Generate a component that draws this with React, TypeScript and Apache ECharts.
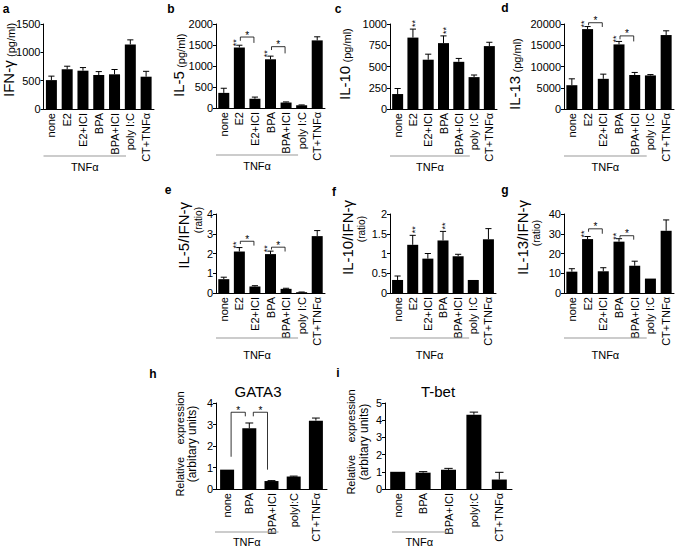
import React, { useEffect, useRef } from 'react';
import * as echarts from 'echarts';

// ---------- data ----------
const catsTop = ['none', 'E2', 'E2+ICI', 'BPA', 'BPA+ICI', 'poly I:C', 'CT+TNFα'];
const catsBottom = ['none', 'BPA', 'BPA+ICI', 'polyI:C', 'CT+TNFα'];

const ifnG = [510, 700, 676, 600, 612, 1140, 570];
const ifnGErr = [70, 55, 55, 60, 85, 80, 95];

const il5 = [360, 1440, 220, 1160, 130, 65, 1610];
const il5Err = [110, 55, 40, 75, 15, 8, 85];
const il5Brackets = [[1, 2, 1690, 1600, 1550], [3, 4, 1460, 1380, 1300]];

const il10 = [176, 840, 580, 775, 555, 375, 740];
const il10Err = [65, 100, 65, 85, 40, 25, 45];

const il13 = [5600, 18800, 7100, 15200, 8000, 7900, 17400];
const il13Err = [1500, 600, 1100, 700, 600, 200, 1000];
const il13Brackets = [[1, 2, 20300, 19700, 19300], [3, 4, 17200, 16400, 15900]];

const il5Ratio = [0.7, 2.1, 0.33, 1.97, 0.21, 0.04, 2.88];
const il5RatioErr = [0.1, 0.2, 0.04, 0.15, 0.03, 0.01, 0.28];
const il5RatioBrackets = [[1, 2, 2.62, 2.48, 2.4], [3, 4, 2.32, 2.2, 2.1]];

const il10Ratio = [0.33, 1.22, 0.87, 1.33, 0.93, 0.33, 1.36];
const il10RatioErr = [0.1, 0.24, 0.13, 0.23, 0.05, 0, 0.27];

const il13Ratio = [10.8, 27.3, 11, 26, 13.8, 7.3, 31.5];
const il13RatioErr = [1.5, 1.3, 1.8, 1.5, 2.3, 0, 5.5];
const il13RatioBrackets = [[1, 2, 32.5, 31, 30], [3, 4, 29, 28, 27]];

const gata3 = [0.9, 2.82, 0.37, 0.58, 3.18];
const gata3Err = [0, 0.25, 0.02, 0.02, 0.12];
const gata3Brackets = [[0, 1, 3.57, 1.5, 3.38], [1, 2, 3.57, 3.38, 0.9]];

const tbet = [1.0, 0.95, 1.12, 4.32, 0.55];
const tbetErr = [0, 0.06, 0.08, 0.15, 0.42];

const starCatsTop = [1, 3];

// ---------- style ----------
const NARROW = "'Liberation Sans Narrow', 'Arial Narrow', 'Liberation Sans', Arial, sans-serif";
const SANS = "'Liberation Sans', Arial, Helvetica, sans-serif";
const INK = '#000';

type Panel = {
  cats: string[]; values: number[]; errs: number[];
  max: number; interval: number;
  left: number; top: number; width: number; height: number;
  barWidth: number; stars: number[]; starMode: 'left' | 'top';
  brackets: number[][]; bracketInset: number;
  tnfTo: number; tnfLine: number; tnfText: number; tnfPadL: number; tnfPadR: number;
};

const panels: Panel[] = [
  // a
  { cats: catsTop, values: ifnG, errs: ifnGErr, max: 1500, interval: 500, left: 43.5, top: 24, width: 110.5, height: 85, barWidth: 11, stars: [], starMode: 'left', brackets: [], bracketInset: 0, tnfTo: 4, tnfLine: 47, tnfText: 58, tnfPadL: 0, tnfPadR: 11.5 },
  // b
  { cats: catsTop, values: il5, errs: il5Err, max: 2000, interval: 500, left: 216, top: 24, width: 109, height: 84, barWidth: 11, stars: starCatsTop, starMode: 'left', brackets: il5Brackets, bracketInset: 1, tnfTo: 4, tnfLine: 47, tnfText: 58, tnfPadL: 0, tnfPadR: 12 },
  // c
  { cats: catsTop, values: il10, errs: il10Err, max: 1000, interval: 250, left: 390, top: 24, width: 107, height: 85, barWidth: 11, stars: starCatsTop, starMode: 'top', brackets: [], bracketInset: 0, tnfTo: 4, tnfLine: 47, tnfText: 58, tnfPadL: 0, tnfPadR: 11 },
  // d
  { cats: catsTop, values: il13, errs: il13Err, max: 20000, interval: 5000, left: 564, top: 24, width: 110, height: 85, barWidth: 11, stars: starCatsTop, starMode: 'left', brackets: il13Brackets, bracketInset: 1, tnfTo: 4, tnfLine: 47, tnfText: 58, tnfPadL: 0, tnfPadR: 12 },
  // e
  { cats: catsTop, values: il5Ratio, errs: il5RatioErr, max: 4, interval: 1, left: 216, top: 214, width: 109, height: 79, barWidth: 11, stars: starCatsTop, starMode: 'left', brackets: il5RatioBrackets, bracketInset: 1, tnfTo: 4, tnfLine: 45, tnfText: 62, tnfPadL: 0, tnfPadR: 12 },
  // f
  { cats: catsTop, values: il10Ratio, errs: il10RatioErr, max: 2, interval: 0.5, left: 390, top: 214, width: 106, height: 79, barWidth: 11, stars: starCatsTop, starMode: 'top', brackets: [], bracketInset: 0, tnfTo: 4, tnfLine: 45, tnfText: 62, tnfPadL: 0, tnfPadR: 11 },
  // g
  { cats: catsTop, values: il13Ratio, errs: il13RatioErr, max: 40, interval: 10, left: 564, top: 214, width: 110, height: 79, barWidth: 11, stars: starCatsTop, starMode: 'left', brackets: il13RatioBrackets, bracketInset: 1, tnfTo: 4, tnfLine: 45, tnfText: 62, tnfPadL: 0, tnfPadR: 12 },
  // h
  { cats: catsBottom, values: gata3, errs: gata3Err, max: 4, interval: 1, left: 216, top: 403, width: 111, height: 86, barWidth: 14, stars: [], starMode: 'top', brackets: gata3Brackets, bracketInset: 4, tnfTo: 2, tnfLine: 43, tnfText: 53, tnfPadL: -1, tnfPadR: 7 },
  // i
  { cats: catsBottom, values: tbet, errs: tbetErr, max: 5, interval: 1, left: 385, top: 403, width: 127, height: 86, barWidth: 15, stars: [], starMode: 'top', brackets: [], bracketInset: 0, tnfTo: 2, tnfLine: 43, tnfText: 53, tnfPadL: 7, tnfPadR: -2 },
];

function buildOption() {
  const grid: any[] = [];
  const xAxis: any[] = [];
  const yAxis: any[] = [];
  const series: any[] = [];

  panels.forEach((p, k) => {
    grid.push({ left: p.left, top: p.top, width: p.width, height: p.height, containLabel: false });
    xAxis.push({
      type: 'category', gridIndex: k, data: p.cats,
      axisLine: { show: true, lineStyle: { color: INK, width: 1 } },
      axisTick: { show: false },
      axisLabel: { rotate: 90, interval: 0, fontSize: 11, margin: 4, color: INK, fontFamily: NARROW },
      splitLine: { show: false },
    });
    yAxis.push({
      type: 'value', gridIndex: k, min: 0, max: p.max, interval: p.interval,
      axisLine: { show: true, lineStyle: { color: INK, width: 1 } },
      axisTick: { show: true, length: 3, lineStyle: { color: INK } },
      axisLabel: { fontSize: 11, margin: 3, color: INK, fontFamily: NARROW, formatter: (v: number) => String(v) },
      splitLine: { show: false },
    });
    series.push({
      type: 'bar', xAxisIndex: k, yAxisIndex: k, data: p.values, barWidth: p.barWidth,
      itemStyle: { color: INK }, silent: true,
    });
    const bw = p.barWidth;
    series.push({
      type: 'custom', xAxisIndex: k, yAxisIndex: k, z: 3, silent: true, itemStyle: { color: INK },
      data: p.values.map((v, i) => [i, v, p.errs[i]]),
      renderItem: (_params: any, api: any) => {
        const i = api.value(0); const v = api.value(1); const e = api.value(2);
        if (!e) return null;
        const p0 = api.coord([i, v]);
        const p1 = api.coord([i, v + e]);
        const cap = bw * 0.28;
        return {
          type: 'group', children: [
            { type: 'line', shape: { x1: p0[0], y1: p0[1], x2: p1[0], y2: p1[1] }, style: { stroke: INK, lineWidth: 1, fill: 'none' } },
            { type: 'line', shape: { x1: p1[0] - cap, y1: p1[1], x2: p1[0] + cap, y2: p1[1] }, style: { stroke: INK, lineWidth: 1, fill: 'none' } },
          ],
        };
      },
    });
    if (p.stars.length) {
      series.push({
        type: 'custom', xAxisIndex: k, yAxisIndex: k, z: 4, silent: true, itemStyle: { color: INK },
        data: p.stars.map((i) => [i, p.values[i] + p.errs[i]]),
        renderItem: (_params: any, api: any) => {
          const pt = api.coord([api.value(0), api.value(1)]);
          const x = p.starMode === 'left' ? pt[0] - bw / 2 + 2 : pt[0] + 2;
          const y = p.starMode === 'left' ? pt[1] + 1 : pt[1] - 2;
          return {
            type: 'text', x, y, rotation: Math.PI / 2,
            style: { text: '**', fontSize: 9, fontFamily: SANS, fill: INK, align: 'left', verticalAlign: 'middle' },
          };
        },
      });
    }
    if (p.brackets.length) {
      const inset = p.bracketInset;
      series.push({
        type: 'custom', xAxisIndex: k, yAxisIndex: k, z: 4, silent: true, itemStyle: { color: INK },
        data: p.brackets,
        renderItem: (_params: any, api: any) => {
          const a = api.coord([api.value(0), api.value(2)]);
          const b = api.coord([api.value(1), api.value(2)]);
          const la = api.coord([api.value(0), api.value(3)]);
          const rb = api.coord([api.value(1), api.value(4)]);
          const x1 = a[0] + inset; const x2 = b[0] - inset;
          return {
            type: 'group', children: [
              { type: 'polyline', shape: { points: [[x1, la[1]], [x1, a[1]], [x2, a[1]], [x2, rb[1]]] }, style: { stroke: INK, lineWidth: 0.8, fill: 'none' } },
              { type: 'text', x: (x1 + x2) / 2, y: a[1] - 2, style: { text: '*', fontSize: 10, fontFamily: SANS, fill: INK, align: 'center', verticalAlign: 'middle' } },
            ],
          };
        },
      });
    }
    series.push({
      type: 'custom', xAxisIndex: k, yAxisIndex: k, z: 2, silent: true, itemStyle: { color: INK },
      data: [[0, p.tnfTo]],
      renderItem: (_params: any, api: any) => {
        const s = api.coord([0, 0]);
        const e = api.coord([api.value(1), 0]);
        const band = api.size([1, 0])[0];
        const x1 = s[0] - band / 2 + p.tnfPadL;
        const x2 = e[0] + p.tnfPadR;
        const yl = s[1] + p.tnfLine;
        return {
          type: 'group', children: [
            { type: 'line', shape: { x1, y1: yl, x2, y2: yl }, style: { stroke: '#9a9a9a', lineWidth: 1.2, fill: 'none' } },
            { type: 'text', x: (x1 + x2) / 2, y: s[1] + p.tnfText, style: { text: 'TNFα', fontSize: 11, fontFamily: NARROW, fill: INK, align: 'center', verticalAlign: 'middle' } },
          ],
        };
      },
    });
  });

  const letters = [
    ['a', 6, 9], ['b', 171, 9], ['c', 338, 9], ['d', 505, 8],
    ['e', 168, 190], ['f', 334, 192], ['g', 505, 190], ['h', 153, 374], ['i', 338, 373],
  ];
  const graphic: any[] = letters.map(([t, x, y]) => ({
    type: 'text', x, y,
    style: { text: t, fontSize: 12, fontWeight: 'bold', fontFamily: SANS, fill: INK, align: 'center', verticalAlign: 'middle' },
  }));

  const rich = {
    b: { fontSize: 15, fontFamily: SANS, fill: INK, verticalAlign: 'bottom' },
    s: { fontSize: 11, fontFamily: SANS, fill: INK, verticalAlign: 'bottom' },
  };
  const topTitles: [string, number, number][] = [
    ['IFN-γ', 16, 97], ['IL-5', 186, 97], ['IL-10', 352, 100], ['IL-13', 522, 110],
  ];
  topTitles.forEach(([t, x, y]) => {
    graphic.push({
      type: 'text', x, y, rotation: Math.PI / 2,
      style: { text: `{b|${t}} {s|(pg/ml)}`, rich, align: 'left', verticalAlign: 'bottom', fill: INK },
    });
  });

  const midTitles: [string, number, number, number, number][] = [
    ['IL-5/IFN-γ', 191, 202, 203, 207],
    ['IL-10/IFN-γ', 355, 200, 366, 216],
    ['IL-13/IFN-γ', 530, 200, 541, 220],
  ];
  midTitles.forEach(([t, x, y, rx, ry]) => {
    graphic.push({
      type: 'text', x, y, rotation: Math.PI / 2,
      style: { text: t, fontSize: 15, fontFamily: SANS, fill: INK, align: 'right', verticalAlign: 'bottom' },
    });
    graphic.push({
      type: 'text', x: rx, y: ry, rotation: Math.PI / 2,
      style: { text: '(ratio)', fontSize: 10, fontFamily: SANS, fill: INK, align: 'right', verticalAlign: 'bottom' },
    });
  });

  const botTitles: [number, number, number][] = [[185, 198, 444], [356, 370, 442]];
  botTitles.forEach(([x1, x2, y]) => {
    graphic.push({
      type: 'text', x: x1, y, rotation: Math.PI / 2,
      style: { text: 'Relative    expression', fontSize: 11, fontFamily: SANS, fill: INK, align: 'center', verticalAlign: 'bottom' },
    });
    graphic.push({
      type: 'text', x: x2, y, rotation: Math.PI / 2,
      style: { text: '(arbitary units)', fontSize: 12, fontFamily: SANS, fill: INK, align: 'center', verticalAlign: 'bottom' },
    });
  });
  graphic.push({ type: 'text', x: 258, y: 391, style: { text: 'GATA3', fontSize: 15, fontFamily: SANS, fill: INK, align: 'center', verticalAlign: 'middle' } });
  graphic.push({ type: 'text', x: 438, y: 391, style: { text: 'T-bet', fontSize: 15, fontFamily: SANS, fill: INK, align: 'center', verticalAlign: 'middle' } });

  return {
    animation: false,
    backgroundColor: '#fff',
    color: [INK],
    grid, xAxis, yAxis, series, graphic,
  };
}

export default function App() {
  const ref = useRef<HTMLDivElement>(null);
  useEffect(() => {
    if (!ref.current) return;
    const chart = echarts.init(ref.current, undefined, { renderer: 'svg' });
    chart.setOption(buildOption() as any);
    return () => chart.dispose();
  }, []);
  return <div ref={ref} style={{ position: 'absolute', left: 0, top: 0, width: 675, height: 548 }} />;
}
